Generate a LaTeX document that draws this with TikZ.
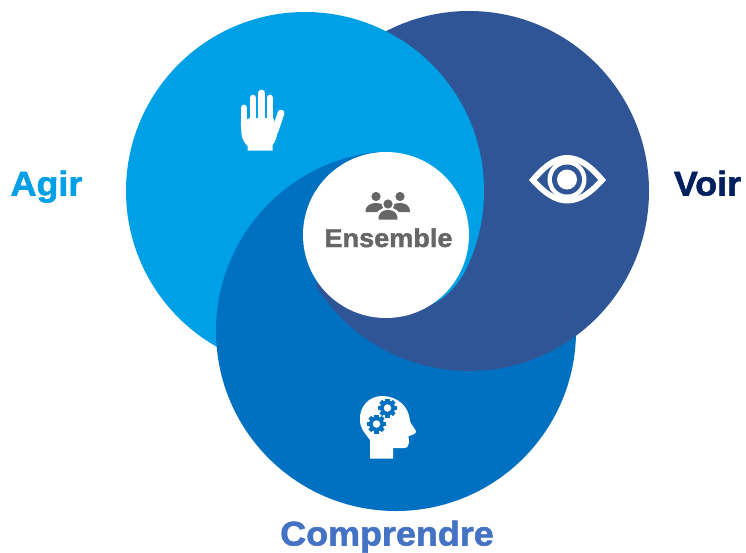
\documentclass[tikz,border=0pt]{standalone}
\usepackage{fontspec}
\setmainfont[BoldFeatures={FakeBold=1.6,FakeStretch=1.05}]{Liberation Sans}
\definecolor{cLight}{RGB}{0,160,230}
\definecolor{cMid}{RGB}{0,112,192}
\definecolor{cDark}{RGB}{47,85,151}
\definecolor{cGray}{RGB}{102,102,102}
\definecolor{cVoir}{RGB}{0,32,96}
\definecolor{cComp}{RGB}{68,114,196}
\tikzset{
  lab/.style={inner sep=0pt,font=\bfseries\fontsize{34.2}{34.2}\selectfont,anchor=base},
  finger/.style={line width=6.8pt,line cap=round,white},
}
\newcommand{\gearicon}[3]{%
  \fill[cMid] (#1,#2) circle (#3);
  \foreach \a in {0,45,...,315}{\fill[cMid,rotate around={\a:(#1,#2)}] (#1-2.1,#2-#3-2) rectangle (#1+2.1,#2);}
  \fill[white] (#1,#2) circle (#3*0.5);
}
\begin{document}
\begin{tikzpicture}[x=1pt,y=-1pt]
\useasboundingbox (0,0) rectangle (746,552);
\fill[white] (0,0) rectangle (746,552);
% swirl of three discs
\def\discV{(469,191) circle (180)}
\def\discA{(305,191) circle (179)}
\def\discC{(396,331) circle (180)}
\fill[cDark] \discV;
\fill[cLight] \discA;
\fill[cMid] \discC;
\begin{scope}
  \clip \discC;
  \clip (386,235) -- (244,335) -- (244,600) -- (700,600) -- (700,40) -- (364,40) -- cycle;
  \fill[cDark] \discV;
\end{scope}
\begin{scope}
  \clip (386,235) -- (432,304) .. controls (442,300) and (453,291) .. (463,275) -- (490,250) -- (700,250) -- (700,40) -- (364,40) -- cycle;
  \fill[cLight] \discA;
\end{scope}
\node[circle,fill=white,minimum size=166pt,inner sep=0pt] (centre) at (386,235) {};
% hand
\draw[finger] (244,108) -- (244,128);
\draw[finger] (253,98) -- (253,125);
\draw[finger] (261.5,93) -- (261.5,125);
\draw[finger] (270,98) -- (270,125);
\draw[finger] (281,113) -- (275,131);
\fill[white] (240.7,122) -- (241.5,134) .. controls (242,140) and (245,143) .. (247.5,146) -- (247.5,150.5) -- (272.5,150.5) -- (272.5,145) .. controls (275,142) and (277,138) .. (278,129) -- (273,118) -- (250,118) -- cycle;
% eye
\fill[white] (529,180) .. controls (543,163) and (555,155) .. (567,155) .. controls (580,155) and (592,163) .. (606,180) .. controls (592,196) and (580,203.5) .. (567,203.5) .. controls (555,203.5) and (543,196) .. (529,180) -- cycle;
\fill[cDark] (537,180) .. controls (548,167) and (558,161) .. (567,161) .. controls (577,161) and (587,167) .. (598,180) .. controls (587,192) and (577,198) .. (567,198) .. controls (558,198) and (548,192) .. (537,180) -- cycle;
\fill[white] (567,179.5) circle (19.5);
\fill[cDark] (567,179.5) circle (15);
\fill[white] (567,179.5) circle (10);
% head
\fill[white] (370,458.5) -- (393,458.5) -- (393,448) -- (404,448) .. controls (408,448) and (409,445) .. (409,442) -- (408.5,436) .. controls (411,435.5) and (416,434) .. (416,431.5) .. controls (415,428) and (411,425) .. (410,421) .. controls (409,406) and (397,396) .. (382,396) .. controls (369,396) and (359,407) .. (360,420) .. controls (360,428) and (364,432) .. (370,440) -- cycle;
\gearicon{387.5}{408}{7.5}
\gearicon{376.5}{424}{7.5}
% people
\fill[cGray] (376,196.5) circle (4.6);
\fill[cGray] (400,196.5) circle (4.6);
\fill[cGray] (365.5,212) .. controls (365.5,205) and (371,203) .. (376,203) .. controls (381,203) and (386,205) .. (386,212) -- cycle;
\fill[cGray] (389.5,212) .. controls (389.5,205) and (395,203) .. (400,203) .. controls (405,203) and (410,205) .. (410,212) -- cycle;
\fill[white] (388,204) circle (6.2);
\fill[white] (375,220.5) .. controls (375,211) and (381,207.5) .. (388,207.5) .. controls (395,207.5) and (401,211) .. (401,220.5) -- cycle;
\fill[cGray] (388,204) circle (4.6);
\fill[cGray] (378.5,219.5) .. controls (378.5,212) and (383,210) .. (388,210) .. controls (393,210) and (397.5,212) .. (397.5,219.5) -- cycle;
% labels
\node[inner sep=0pt,anchor=base,text=cGray,font=\bfseries\fontsize{25.8}{25.8}\selectfont] (ens) at (388.5,247) {Ensemble};
\node[lab,text=cLight] (agir) at (46.5,195.5) {Agir};
\node[lab,text=cVoir] (voir) at (707.5,195.5) {Voir};
\node[lab,text=cComp] (comp) at (387,545.5) {Comprendre};
\end{tikzpicture}
\end{document}
